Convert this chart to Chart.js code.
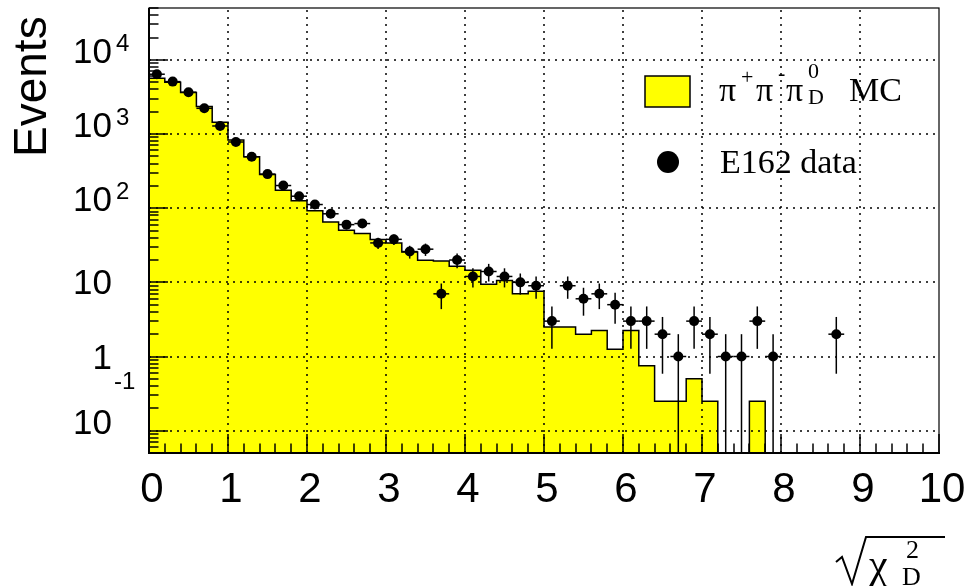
<!DOCTYPE html>
<html>
<head>
<meta charset="utf-8">
<script src="https://cdn.jsdelivr.net/npm/chart.js@4.4.0/dist/chart.umd.min.js"></script>
<style>
  html, body { margin: 0; padding: 0; background: #fff; }
  canvas { display: block; }
</style>
</head>
<body>
<canvas id="chi2Chart" width="975" height="586"></canvas>
<script>
// sqrt(chi2_D) distribution, 50 bins of 0.2 between 0 and 10
const binLow = 0;
const binWidth = 0.2;
const yMin = 0.05;
const yMax = 50000;

// pi+ pi- pi0_D Monte Carlo (yellow histogram)
const mcEvents = [
  5650, 4990, 3620, 2340, 1440, 830, 494, 285, 175, 126,
  92, 65, 50.4, 45.5, 37.8, 34, 25.7, 19.8, 19.4, 16.5,
  14.5, 9.4, 10.6, 7.0, 7.6, 2.5, 2.5, 2.0, 2.25, 1.25,
  2.25, 0.75, 0.25, 0.25, 0.5, 0.25, 0, 0, 0.25, 0,
  0, 0, 0, 0, 0, 0, 0, 0, 0, 0
];

// E162 data (black points, sqrt(N) errors)
const dataEvents = [
  6400, 5090, 3660, 2220, 1283, 780, 494, 288, 202, 145,
  112, 84, 60, 62, 34, 38, 26, 28, 7, 20,
  12, 14, 12, 10, 9, 3, 9, 6, 7, 5,
  3, 3, 2, 1, 3, 2, 1, 1, 3, 1,
  0, 0, 0, 2, 0, 0, 0, 0, 0, 0
];

const xTicks = [0, 1, 2, 3, 4, 5, 6, 7, 8, 9, 10];
const yTicks = [0.1, 1, 10, 100, 1000, 10000];
const yTickBase = ['10', '1', '10', '10', '10', '10'];
const yTickExp = ['-1', '', '', '2', '3', '4'];

// histogram as stepped line: left edge of each bin, plus the closing edge.
// empty bins sit on the axis floor (log scale can't take 0)
const mcSteps = mcEvents.map((v, i) => ({ x: binLow + i * binWidth, y: Math.max(v, yMin) }));
mcSteps.push({ x: binLow + mcEvents.length * binWidth, y: Math.max(mcEvents[mcEvents.length - 1], yMin) });

const dataPoints = [];
dataEvents.forEach((n, i) => {
  if (n > 0) dataPoints.push({ x: binLow + (i + 0.5) * binWidth, y: n });
});

const SANS = '"Liberation Sans", Arial, sans-serif';
const SERIF = '"Liberation Serif", "Times New Roman", serif';

function seg(ctx, x1, y1, x2, y2) {
  ctx.beginPath();
  ctx.moveTo(x1, y1);
  ctx.lineTo(x2, y2);
  ctx.stroke();
}

// grid, ticks and frame go on top of the MC fill but below the data points
const axesOverlay = {
  id: 'axesOverlay',
  afterDatasetDraw(chart, args) {
    if (args.index !== 0) return;
    const { ctx, chartArea: a, scales: { x, y } } = chart;
    ctx.save();
    ctx.strokeStyle = '#000';

    // dotted grid
    ctx.lineWidth = 1.5;
    ctx.setLineDash([2, 5]);
    xTicks.forEach(v => {
      if (v <= x.min || v >= x.max) return;
      const px = Math.round(x.getPixelForValue(v));
      seg(ctx, px, a.bottom, px, a.top);
    });
    yTicks.forEach(v => {
      const py = Math.round(y.getPixelForValue(v));
      seg(ctx, a.left, py, a.right, py);
    });
    ctx.setLineDash([]);

    // x ticks (inside, up from the bottom axis)
    ctx.lineWidth = 1.5;
    for (let i = 0; i <= 50; i++) {
      const px = Math.round(x.getPixelForValue(i * 0.2));
      const len = i % 5 === 0 ? 19 : 9.5;
      seg(ctx, px, a.bottom, px, a.bottom - len);
    }
    // y ticks (log, inside from the left axis)
    for (let d = -2; d <= 4; d++) {
      for (let m = 1; m <= 9; m++) {
        const v = m * Math.pow(10, d);
        if (v < y.min || v > y.max) continue;
        const py = Math.round(y.getPixelForValue(v));
        seg(ctx, a.left, py, a.left + (m === 1 ? 19 : 9.5), py);
      }
    }

    // frame
    ctx.lineWidth = 1.2;
    ctx.strokeRect(a.left, a.top, a.right - a.left, a.bottom - a.top);
    ctx.lineWidth = 2;
    seg(ctx, a.left, a.top, a.left, a.bottom + 1);
    seg(ctx, a.left - 1, a.bottom, a.right + 1, a.bottom);
    ctx.restore();
  }
};

const errorBars = {
  id: 'errorBars',
  beforeDatasetDraw(chart, args) {
    if (args.index !== 1) return;
    const { ctx, chartArea: a, scales: { x, y } } = chart;
    ctx.save();
    ctx.beginPath();
    ctx.rect(a.left, a.top, a.right - a.left, a.bottom - a.top);
    ctx.clip();
    ctx.strokeStyle = '#000';
    ctx.lineWidth = 1.5;
    dataPoints.forEach(p => {
      const err = Math.sqrt(p.y);
      const px = x.getPixelForValue(p.x);
      const py = y.getPixelForValue(p.y);
      const lo = p.y - err;
      seg(ctx, px, y.getPixelForValue(p.y + err), px, lo > 0 ? y.getPixelForValue(lo) : a.bottom);
      seg(ctx, x.getPixelForValue(p.x - binWidth / 2), py, x.getPixelForValue(p.x + binWidth / 2), py);
    });
    ctx.restore();
  }
};

const textLayer = {
  id: 'textLayer',
  afterDraw(chart) {
    const { ctx, scales: { x, y } } = chart;
    ctx.save();
    ctx.fillStyle = '#000';

    // x tick labels
    ctx.font = '42px ' + SANS;
    ctx.textAlign = 'center';
    ctx.textBaseline = 'alphabetic';
    xTicks.forEach(v => {
      ctx.fillText(String(v), x.getPixelForValue(v) + 3, 502);
    });

    // y tick labels, 10 with exponent
    yTicks.forEach((v, i) => {
      const py = y.getPixelForValue(v);
      ctx.textAlign = 'right';
      ctx.font = '35px ' + SANS;
      if (!yTickExp[i]) {
        ctx.fillText(yTickBase[i], 112, py + 12);
        return;
      }
      ctx.fillText(yTickBase[i], 112, py + 3);
      ctx.textAlign = 'left';
      ctx.font = '24px ' + SANS;
      const neg = yTickExp[i].startsWith('-');
      ctx.fillText(yTickExp[i], neg ? 114 : 116, neg ? py - 42 : py - 9);
    });

    // y title
    ctx.save();
    ctx.translate(46, 157);
    ctx.rotate(-Math.PI / 2);
    ctx.textAlign = 'left';
    ctx.font = '46px ' + SANS;
    ctx.fillText('Events', 0, 0);
    ctx.restore();

    // x title: sqrt(chi^2_D)
    ctx.lineWidth = 2;
    ctx.lineJoin = 'miter';
    ctx.beginPath();
    ctx.moveTo(836, 562);
    ctx.lineTo(842, 557);
    ctx.lineTo(852, 584);
    ctx.lineTo(866, 537);
    ctx.lineTo(945, 537);
    ctx.stroke();
    ctx.textAlign = 'left';
    ctx.font = '42px ' + SERIF;
    ctx.fillText('χ', 869, 578);
    ctx.font = '26px ' + SERIF;
    ctx.fillText('2', 906, 558);
    ctx.fillText('D', 902, 585);

    // legend
    ctx.fillStyle = '#ffff00';
    ctx.fillRect(645, 76, 45, 31);
    ctx.lineWidth = 1.5;
    ctx.strokeRect(645, 76, 45, 31);
    ctx.fillStyle = '#000';
    ctx.beginPath();
    ctx.arc(668, 162, 11, 0, Math.PI * 2);
    ctx.fill();

    const big = '34px ' + SERIF;
    const small = '22px ' + SERIF;
    ctx.font = big;
    ctx.fillText('π', 719, 101);
    ctx.font = small;
    ctx.fillText('+', 741, 84);
    ctx.font = big;
    ctx.fillText('π', 756, 101);
    ctx.font = small;
    ctx.fillText('-', 778, 80);
    ctx.font = big;
    ctx.fillText('π', 786, 101);
    ctx.font = small;
    ctx.fillText('0', 808, 78);
    ctx.fillText('D', 808, 104);
    ctx.font = big;
    ctx.fillText('MC', 849, 101);
    ctx.fillText('E162 data', 720, 173);
    ctx.restore();
  }
};

new Chart(document.getElementById('chi2Chart'), {
  type: 'scatter',
  data: {
    datasets: [
      {
        label: 'π+π-π0_D MC',
        type: 'line',
        data: mcSteps,
        stepped: 'before',
        fill: 'start',
        backgroundColor: '#ffff00',
        borderColor: '#000',
        borderWidth: 1.5,
        pointRadius: 0,
        order: 2
      },
      {
        label: 'E162 data',
        data: dataPoints,
        pointRadius: 5,
        pointBorderWidth: 0,
        backgroundColor: '#000',
        borderColor: '#000',
        order: 1
      }
    ]
  },
  options: {
    responsive: false,
    animation: false,
    events: [],
    layout: { padding: { left: 149, top: 8, right: 36, bottom: 133 } },
    scales: {
      x: { type: 'linear', min: 0, max: 10, display: false },
      y: { type: 'logarithmic', min: yMin, max: yMax, display: false }
    },
    plugins: {
      legend: { display: false },
      tooltip: { enabled: false }
    }
  },
  plugins: [axesOverlay, errorBars, textLayer]
});
</script>
</body>
</html>
